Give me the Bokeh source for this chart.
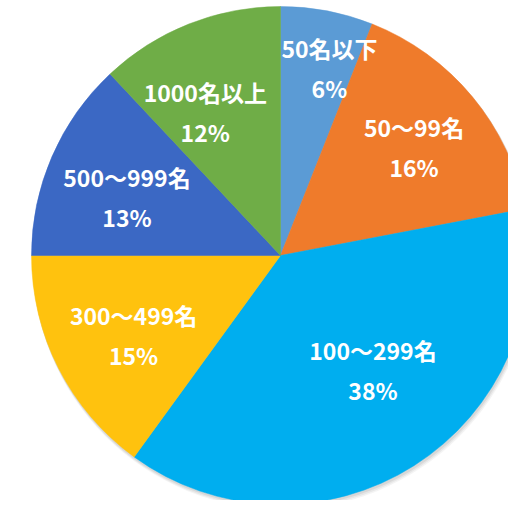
import math
from bokeh.plotting import figure
from bokeh.models import Range1d, ColumnDataSource
from bokeh.core.properties import value
from bokeh.embed import file_html
from bokeh.resources import INLINE

# ---- data ----
categories = ["50名以下", "50～99名", "100～299名", "300～499名", "500～999名", "1000名以上"]
shares = [6, 16, 38, 15, 13, 12]

# ---- styles ----
colors = ["#5B9BD5", "#EF7B2B", "#00AEEF", "#FFC20E", "#3B68C4", "#6FAD47"]
label_radius_frac = [0.78, 0.69, 0.59, 0.67, 0.66, 0.65]
label_angle_nudge = [3.8, 0.6, -6.6, -1.3, -2.5, -6.1]

W, H = 508, 500
cx, cy, R = 280, 245, 249

total = float(sum(shares))
starts, ends, lx, ly, pcts = [], [], [], [], []
cum = 0.0
for i, v in enumerate(shares):
    a0 = cum / total * 360.0
    cum += v
    a1 = cum / total * 360.0
    starts.append(math.radians(90 - a0))
    ends.append(math.radians(90 - a1))
    mid = (a0 + a1) / 2 + label_angle_nudge[i]
    rr = R * label_radius_frac[i]
    lx.append(cx + rr * math.sin(math.radians(mid)))
    ly.append(cy + rr * math.cos(math.radians(mid)))
    pcts.append(f"{v}%")

src = ColumnDataSource(dict(x=[cx] * len(shares), y=[cy] * len(shares),
                            start=starts, end=ends, color=colors,
                            lx=lx, ly=ly, name=categories, pct=pcts))

p = figure(width=W, height=H, output_backend="svg", toolbar_location=None,
           x_range=Range1d(0, W), y_range=Range1d(0, H), min_border=0,
           background_fill_color="white", border_fill_color="white")
p.axis.visible = False
p.grid.visible = False
p.outline_line_color = None

# soft shadow
for off, al in [(4, 0.08), (3, 0.10), (2, 0.14)]:
    p.circle(x=[cx + off * 0.5], y=[cy - off], radius=R + off * 0.3,
             fill_color="#777777", fill_alpha=al, line_color=None)

p.wedge(x="x", y="y", radius=R, start_angle="start", end_angle="end",
        direction="clock", fill_color="color", line_color="color",
        line_width=0.5, source=src)

for col, off in [("name", -20), ("pct", 20)]:
    p.text(x="lx", y="ly", text=col, source=src, text_color="white",
           text_font=value("Noto Sans CJK JP"), text_font_style="bold",
           text_font_size="23px", text_align="center", text_baseline="middle",
           y_offset=off)

open("out.html", "w").write(file_html(p, INLINE))
